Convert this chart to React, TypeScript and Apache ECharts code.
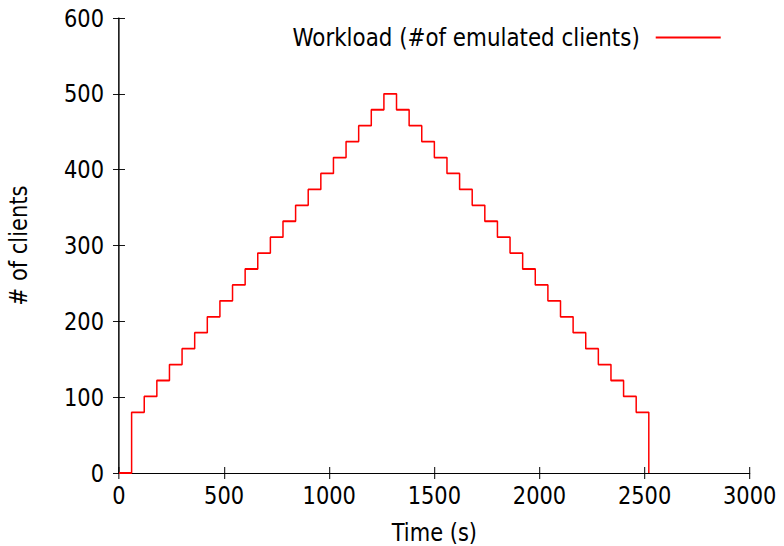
import React, { useEffect, useRef } from "react";
import * as echarts from "echarts";

const times = [
  0, 60, 120, 180, 240, 300, 360, 420, 480, 540, 600, 660, 720, 780, 840, 900, 960, 1020,
  1080, 1140, 1200, 1260, 1320, 1380, 1440, 1500, 1560, 1620, 1680, 1740, 1800, 1860, 1920,
  1980, 2040, 2100, 2160, 2220, 2280, 2340, 2400, 2460, 2520,
];
const clients = [
  0, 80, 101, 122, 143, 164, 185, 206, 227, 248, 269, 290, 311, 332, 353, 374, 395, 416,
  437, 458, 479, 500, 479, 458, 437, 416, 395, 374, 353, 332, 311, 290, 269, 248, 227,
  206, 185, 164, 143, 122, 101, 80, 0,
];
const seriesName = "Workload (#of emulated clients)";
const xTitle = "Time (s)";
const yTitle = "# of clients";

const FONT = "'DejaVu Sans', sans-serif";
const C = 0.84; // horizontal text compression (applied to whole chart via CSS)
const W = 784;
const H = 546;
const FS = 25;

export default function App() {
  const ref = useRef<HTMLDivElement>(null);
  useEffect(() => {
    if (!ref.current) return;
    const chart = echarts.init(ref.current, undefined, { renderer: "svg" });
    const data = times.map((t, i) => [t, clients[i]]);
    const vLine = { show: true, lineStyle: { color: "#000", width: 1 / C } };
    const hLine = { show: true, lineStyle: { color: "#000", width: 1 } };
    const xTick = { show: true, inside: true, length: 6, lineStyle: { color: "#000", width: 1 / C } };
    const yTick = { show: true, inside: true, length: 6 / C, lineStyle: { color: "#000", width: 1 } };
    const label = {
      color: "#000",
      fontSize: FS,
      fontFamily: FONT,
      formatter: (v: number) => String(v),
    };
    chart.setOption({
      animation: false,
      backgroundColor: "#fff",
      grid: {
        left: 119 / C,
        top: 18,
        right: 34 / C,
        bottom: 73,
        containLabel: false,
        outerBoundsMode: "none",
      },
      legend: {
        right: 63 / C,
        top: 24.5,
        padding: 0,
        align: "right",
        icon: "rect",
        itemWidth: 65 / C,
        itemHeight: 2,
        textStyle: { color: "#000", fontSize: 25.5, fontFamily: FONT, padding: [0, 14, 0, 0] },
        data: [seriesName],
      },
      graphic: [
        {
          type: "text",
          x: 18 / C,
          y: 245.5,
          rotation: Math.PI / 2,
          scaleX: C,
          scaleY: 1 / C,
          style: {
            text: yTitle,
            fill: "#000",
            fontSize: FS,
            fontFamily: FONT,
            align: "center",
            verticalAlign: "middle",
          },
        },
      ],
      xAxis: [
        {
          type: "value",
          min: 0,
          max: 3000,
          interval: 500,
          axisLine: hLine,
          axisTick: xTick,
          splitLine: { show: false },
          axisLabel: { ...label, margin: 10 },
          name: xTitle,
          nameLocation: "middle",
          nameGap: 47,
          nameTextStyle: { color: "#000", fontSize: FS, fontFamily: FONT },
        },
        {
          type: "value",
          position: "top",
          min: 0,
          max: 3000,
          interval: 500,
          axisLine: hLine,
          axisTick: xTick,
          splitLine: { show: false },
          axisLabel: { show: false },
        },
      ],
      yAxis: [
        {
          type: "value",
          min: 0,
          max: 600,
          interval: 100,
          axisLine: vLine,
          axisTick: yTick,
          splitLine: { show: false },
          axisLabel: { ...label, margin: 15 / C },
        },
        {
          type: "value",
          position: "right",
          min: 0,
          max: 600,
          interval: 100,
          axisLine: vLine,
          axisTick: yTick,
          splitLine: { show: false },
          axisLabel: { show: false },
        },
      ],
      series: [
        {
          name: seriesName,
          type: "line",
          step: "end",
          data,
          symbol: "none",
          color: "#ff0000",
          lineStyle: { color: "#ff0000", width: 1.8 },
        },
      ],
    });
    return () => chart.dispose();
  }, []);
  return (
    <div
      style={{
        position: "fixed",
        left: 0,
        top: 0,
        width: W,
        height: H,
        overflow: "hidden",
        background: "#fff",
      }}
    >
      <div
        ref={ref}
        style={{
          width: W / C,
          height: H,
          transform: `scaleX(${C})`,
          transformOrigin: "0 0",
        }}
      />
    </div>
  );
}
